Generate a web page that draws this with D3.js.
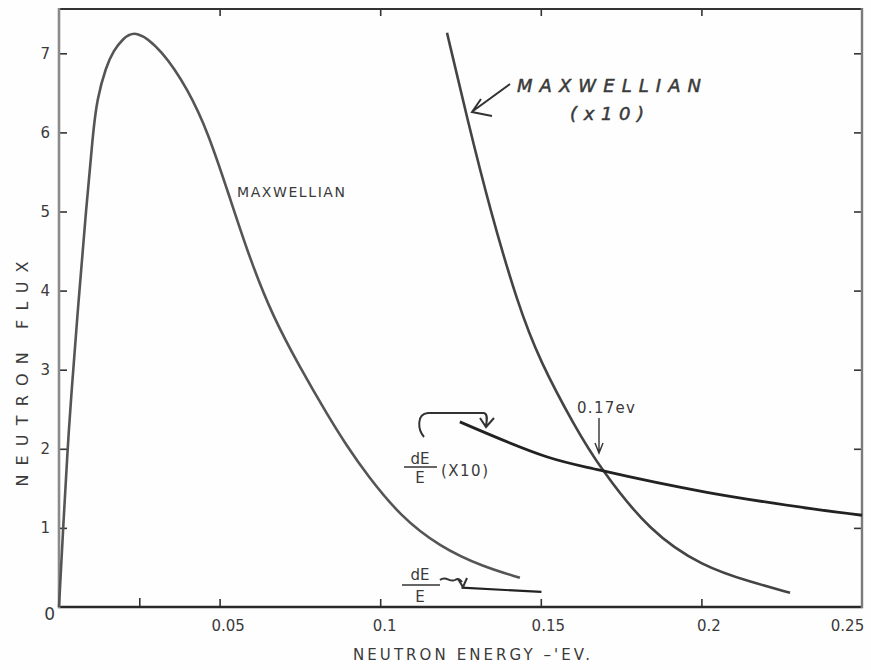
<!DOCTYPE html>
<html>
<head>
<meta charset="utf-8">
<script src="https://cdn.jsdelivr.net/npm/d3@7"></script>
<style>
  body { margin: 0; background: #fff; }
  svg { display: block; }
  .lbl { font-family: "DejaVu Sans", "Liberation Sans", sans-serif; fill: #3a3a3a; }
  .tick text { font-family: "DejaVu Sans", sans-serif; font-size: 15px; fill: #3a3a3a; }
  .tick line { stroke: #333; stroke-width: 1.6; }
</style>
</head>
<body>
<svg id="chart" width="871" height="670"></svg>
<script>
// data (energy in eV, flux in plot units)
const maxwellE = [0, 0.00125, 0.00265, 0.0037, 0.0061, 0.0084, 0.0106, 0.0118, 0.0146, 0.0171, 0.0196, 0.0237, 0.0321, 0.0402, 0.0464, 0.0529, 0.0595, 0.0666, 0.075, 0.0834, 0.0897, 0.0959, 0.1062, 0.1186, 0.132, 0.1435];
const maxwellFlux = [0, 0.97, 1.98, 2.62, 3.88, 5.01, 6.0, 6.41, 6.83, 7.04, 7.17, 7.31, 7.04, 6.54, 6.0, 5.21, 4.39, 3.67, 3.03, 2.44, 2.03, 1.67, 1.15, 0.76, 0.51, 0.37];

const maxwell10E = [0.1208, 0.127, 0.1342, 0.1429, 0.1497, 0.1606, 0.1684, 0.1839, 0.2005, 0.2151, 0.2276];
const maxwell10Flux = [7.26, 6.19, 5.02, 3.82, 3.11, 2.28, 1.76, 0.95, 0.51, 0.32, 0.18];

const invE10E = [0.1248, 0.1518, 0.1684, 0.2017, 0.2347, 0.25];
const invE10Flux = [2.34, 1.9, 1.73, 1.45, 1.24, 1.16];

const invEE = [0.1253, 0.1502];
const invEFlux = [0.245, 0.19];

const xTicks = [0.05, 0.1, 0.15, 0.2, 0.25];
const xTickLabels = ["0.05", "0.1", "0.15", "0.2", "0.25"];
const xMinorTicks = [0.025];
const topTicks = [0.05, 0.1, 0.15, 0.2];
const yTicks = [1, 2, 3, 4, 5, 6, 7];

const svg = d3.select("#chart");
svg.append("rect").attr("width", 871).attr("height", 670).attr("fill", "#fefefe");

const x = d3.scaleLinear().domain([0, 0.25]).range([59, 862]);
const y = d3.scaleLinear().domain([0, 7.56]).range([607, 9]);

// label nudges to follow the hand lettering
const xLabelShift = { "0.05": 8, "0.1": 4, "0.15": 7, "0.2": 7, "0.25": -15 };

// bottom axis
const gx = svg.append("g").attr("transform", "translate(0,607)")
  .call(d3.axisBottom(x).tickValues(xTicks).tickSizeInner(-8).tickSizeOuter(0).tickPadding(13)
    .tickFormat((d, i) => xTickLabels[i]));
gx.select(".domain").remove();
gx.selectAll(".tick text").attr("dx", (d, i) => xLabelShift[xTickLabels[i]]);
gx.selectAll(".tick").filter(d => d === 0.25).select("line").remove();

svg.append("g").attr("transform", "translate(0,607)")
  .call(d3.axisBottom(x).tickValues(xMinorTicks).tickSizeInner(-9).tickFormat(""))
  .select(".domain").remove();

// top axis ticks
svg.append("g").attr("transform", "translate(0,9)")
  .call(d3.axisTop(x).tickValues(topTicks).tickSizeInner(-7).tickFormat(""))
  .select(".domain").remove();

// left axis
const gy = svg.append("g").attr("transform", "translate(59,0)")
  .call(d3.axisLeft(y).tickValues(yTicks).tickSizeInner(-8).tickPadding(9).tickFormat(d3.format("d")));
gy.select(".domain").remove();

svg.append("text").attr("class", "lbl")
  .attr("x", 55).attr("y", y(0) + 13)
  .attr("text-anchor", "end").attr("font-size", 17).text("0");

// right axis ticks
svg.append("g").attr("transform", "translate(862,0)")
  .call(d3.axisRight(y).tickValues(yTicks).tickSizeInner(-8).tickFormat(""))
  .select(".domain").remove();

// frame
svg.append("line").attr("x1", 59).attr("x2", 862).attr("y1", 9).attr("y2", 9)
  .attr("stroke", "#333").attr("stroke-width", 2.2);
svg.append("line").attr("x1", 58).attr("x2", 863).attr("y1", 607).attr("y2", 607)
  .attr("stroke", "#2a2a2a").attr("stroke-width", 2.6);
svg.append("line").attr("x1", 59).attr("x2", 59).attr("y1", 8).attr("y2", 608)
  .attr("stroke", "#8a8a8a").attr("stroke-width", 2.6);
svg.append("line").attr("x1", 862).attr("x2", 862).attr("y1", 8).attr("y2", 608)
  .attr("stroke", "#7a7a7a").attr("stroke-width", 2.4);

// curves - smoothed like a french curve drawing
const line = d3.line().x(d => x(d[0])).y(d => y(d[1])).curve(d3.curveBasis);
const line2 = d3.line().x(d => x(d[0])).y(d => y(d[1])).curve(d3.curveCatmullRom.alpha(0.5));

svg.append("path").datum(d3.zip(maxwellE, maxwellFlux))
  .attr("d", line).attr("fill", "none").attr("stroke", "#555").attr("stroke-width", 2.6);
svg.append("path").datum(d3.zip(maxwell10E, maxwell10Flux))
  .attr("d", line).attr("fill", "none").attr("stroke", "#444").attr("stroke-width", 2.6);
svg.append("path").datum(d3.zip(invE10E, invE10Flux))
  .attr("d", line2).attr("fill", "none").attr("stroke", "#222").attr("stroke-width", 2.8);
svg.append("path").datum(d3.zip(invEE, invEFlux))
  .attr("d", line2).attr("fill", "none").attr("stroke", "#222").attr("stroke-width", 2.2);

// axis titles
svg.append("text").attr("class", "lbl")
  .attr("x", 353).attr("y", 660).attr("font-size", 15)
  .attr("textLength", 237).attr("lengthAdjust", "spacing")
  .text("NEUTRON ENERGY \u2013'EV.");
svg.append("text").attr("class", "lbl")
  .attr("transform", "translate(28,374) rotate(-90)")
  .attr("text-anchor", "middle").attr("font-size", 16)
  .attr("textLength", 225).attr("lengthAdjust", "spacing")
  .text("NEUTRON FLUX");

// annotations
svg.append("text").attr("class", "lbl")
  .attr("x", 237).attr("y", 197).attr("font-size", 14)
  .attr("textLength", 108).attr("lengthAdjust", "spacing")
  .text("MAXWELLIAN");

svg.append("text").attr("class", "lbl")
  .attr("x", 517).attr("y", 92).attr("font-size", 18).attr("font-style", "italic")
  .attr("stroke", "#3a3a3a").attr("stroke-width", 0.5)
  .attr("textLength", 184).attr("lengthAdjust", "spacing")
  .text("MAXWELLIAN");
svg.append("text").attr("class", "lbl")
  .attr("x", 570).attr("y", 120).attr("font-size", 18).attr("font-style", "italic")
  .attr("stroke", "#3a3a3a").attr("stroke-width", 0.5)
  .attr("textLength", 74).attr("lengthAdjust", "spacing")
  .text("(x10)");

const pen = { fill: "none", stroke: "#333", "stroke-width": 2 };
function stroke(sel) { Object.entries(pen).forEach(([k, v]) => sel.attr(k, v)); return sel; }

stroke(svg.append("path").attr("d", "M510,84 L473,111 M481,99 L472,112 L492,116"));

// dE/E (X10)
svg.append("text").attr("class", "lbl").attr("x", 420).attr("y", 464)
  .attr("text-anchor", "middle").attr("font-size", 15).text("dE");
stroke(svg.append("line").attr("x1", 404).attr("x2", 437).attr("y1", 467).attr("y2", 467)).attr("stroke-width", 1.6);
svg.append("text").attr("class", "lbl").attr("x", 420).attr("y", 483)
  .attr("text-anchor", "middle").attr("font-size", 15).text("E");
svg.append("text").attr("class", "lbl").attr("x", 441).attr("y", 476)
  .attr("font-size", 15).attr("textLength", 47).attr("lengthAdjust", "spacing").text("(X10)");
stroke(svg.append("path").attr("d", "M424,437 C418,430 416,414 428,413 L484,413 C488,414 487,420 486,426 M480,418 L486,427 L494,418"));

// dE/E
svg.append("text").attr("class", "lbl").attr("x", 420).attr("y", 580)
  .attr("text-anchor", "middle").attr("font-size", 15).text("dE");
stroke(svg.append("line").attr("x1", 402).attr("x2", 440).attr("y1", 585).attr("y2", 585)).attr("stroke-width", 1.6);
svg.append("text").attr("class", "lbl").attr("x", 420).attr("y", 602)
  .attr("text-anchor", "middle").attr("font-size", 15).text("E");
stroke(svg.append("path").attr("d", "M440,580 C446,575 450,583 455,580 C458,578 460,579 462,582 M458,579 L463,587 L467,578"));

// 0.17 ev
svg.append("text").attr("class", "lbl").attr("x", 577).attr("y", 413)
  .attr("font-size", 15).attr("textLength", 58).attr("lengthAdjust", "spacing").text("0.17ev");
stroke(svg.append("path").attr("d", "M599,418 L599,452 M595,443 L599,453 L603,443")).attr("stroke-width", 1.4);
</script>
</body>
</html>
